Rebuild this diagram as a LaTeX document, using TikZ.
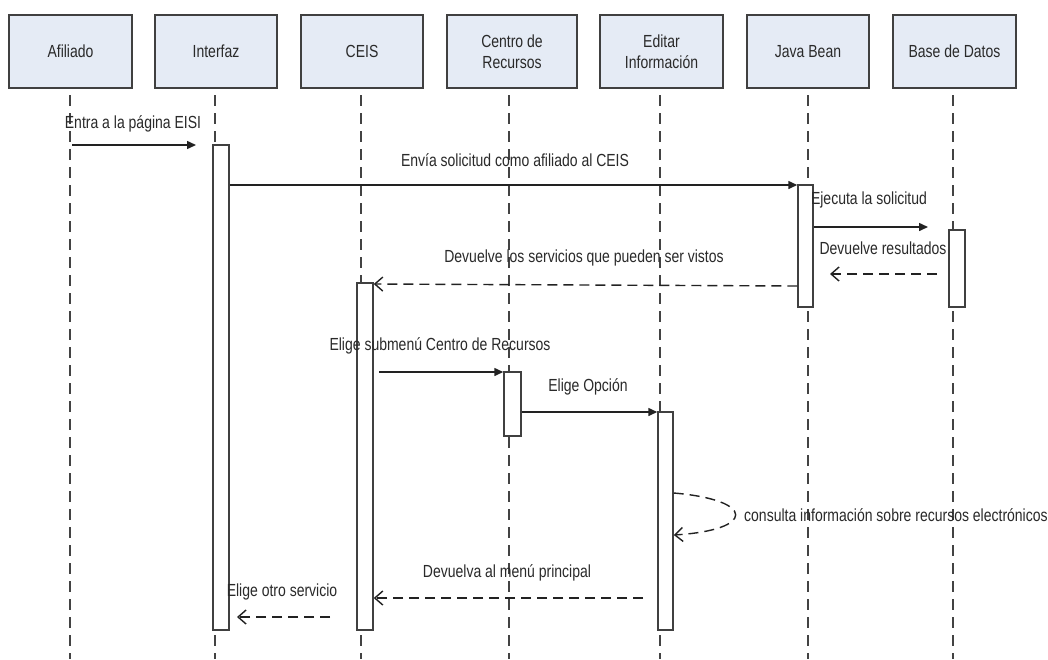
\documentclass[tikz,border=0pt]{standalone}
\usepackage{fontspec}
\setmainfont{Liberation Sans}[FakeStretch=0.8]
\usetikzlibrary{arrows.meta}
\definecolor{hdrfill}{HTML}{E5EBF5}
\definecolor{hdrline}{HTML}{404040}
\definecolor{txt}{HTML}{2A2A2A}
\definecolor{lnc}{HTML}{222222}
\begin{document}
\begin{tikzpicture}[x=1pt,y=-1pt,
  every node/.style={font=\fontsize{17.5}{21.5}\selectfont, text=txt},
  hdr/.style={draw=hdrline, line width=1.6pt, fill=hdrfill, minimum height=73pt, inner sep=0pt, align=center},
  life/.style={draw=lnc!85!white, line width=1.4pt, dash pattern=on 11pt off 7pt},
  actbox/.style={draw=hdrline, line width=1.5pt, fill=white, inner sep=0pt},
  msg/.style={draw=lnc, line width=1.5pt, -{Triangle[length=9pt,width=8pt]}},
  ret/.style={draw=lnc, line width=1.4pt, dash pattern=on 10pt off 6pt, -{Straight Barb[length=8pt,width=14pt]}},
  lbl/.style={inner sep=0pt, anchor=center}]
\path[use as bounding box, fill=white] (0,0) rectangle (1048,659);

% header boxes
\node[hdr, minimum width=123pt] (afi) at (70.5,51.5) {Afiliado};
\node[hdr, minimum width=122pt] (int) at (216,51.5) {Interfaz};
\node[hdr, minimum width=122pt] (ceis) at (362,51.5) {CEIS};
\node[hdr, minimum width=130pt] (cen) at (512,51.5) {Centro de\\Recursos};
\node[hdr, minimum width=123pt] (edi) at (661.5,51.5) {Editar\\Información};
\node[hdr, minimum width=122pt] (jav) at (808,51.5) {Java Bean};
\node[hdr, minimum width=123pt] (bas) at (954.5,51.5) {Base de Datos};

% lifeline ends
\coordinate (eafi) at (70,659);
\coordinate (eint) at (215,659);
\coordinate (eceis) at (361,659);
\coordinate (ecen) at (509,659);
\coordinate (eedi) at (660,659);
\coordinate (ejav) at (808,659);
\coordinate (ebas) at (953,659);

\draw[life] (70,95) -- (eafi);
\draw[life] (215,95) -- (eint);
\draw[life] (361,95) -- (eceis);
\draw[life] (509,95) -- (ecen);
\draw[life] (660,95) -- (eedi);
\draw[life] (808,95) -- (ejav);
\draw[life] (953,95) -- (ebas);

% activation boxes
\node[actbox, minimum width=16pt, minimum height=485pt] (aI) at (221,387.5) {};
\node[actbox, minimum width=15pt, minimum height=122pt] (aJ) at (805.5,246) {};
\node[actbox, minimum width=16pt, minimum height=77pt] (aB) at (957,268.5) {};
\node[actbox, minimum width=16pt, minimum height=347pt] (aC) at (365,456.5) {};
\node[actbox, minimum width=17pt, minimum height=64pt] (aR) at (512.5,404) {};
\node[actbox, minimum width=15pt, minimum height=218pt] (aE) at (665.5,521) {};

% free ends
\coordinate (s1) at (72,145);
\coordinate (t1) at (196,145);
\coordinate (t3) at (928,227);
\coordinate (s4) at (937,274);
\coordinate (t4) at (830,274);
\coordinate (s6) at (379,372);
\coordinate (s9) at (643,598);
\coordinate (s10) at (330,617);
\coordinate (t10) at (237,617);

% messages
\draw[msg] (s1) -- (t1);
\node[lbl] at (133,124) {Entra a la página EISI};

\draw[msg] (aI.east |- 0,185) -- (aJ.west |- 0,185);
\node[lbl] at (515,160) {Envía solicitud como afiliado al CEIS};

\draw[msg] (aJ.east |- 0,227) -- (t3);
\node[lbl] at (869,200) {Ejecuta la solicitud};

\draw[ret] (s4) -- (t4);
\node[lbl] at (883,248) {Devuelve resultados};

\draw[ret] (aJ.west |- 0,286) -- (aC.east |- 0,284);
\node[lbl] at (584,258) {Devuelve los servicios que pueden ser vistos};

\draw[msg] (s6) -- (aR.west |- 0,372);
\node[lbl] at (440,346) {Elige submenú Centro de Recursos};

\draw[msg] (aR.east |- 0,412) -- (aE.west |- 0,412);
\node[lbl] at (588,387) {Elige Opción};

\draw[ret] (aE.east |- 0,493) .. controls (756,500) and (756,530) .. (aE.east |- 0,535);
\node[lbl, anchor=west] at (744,515) {consulta información sobre recursos electrónicos};

\draw[ret] (s9) -- (aC.east |- 0,598);
\node[lbl] at (507,573) {Devuelva al menú principal};

\draw[ret] (s10) -- (t10);
\node[lbl] at (282,592) {Elige otro servicio};
\end{tikzpicture}
\end{document}
